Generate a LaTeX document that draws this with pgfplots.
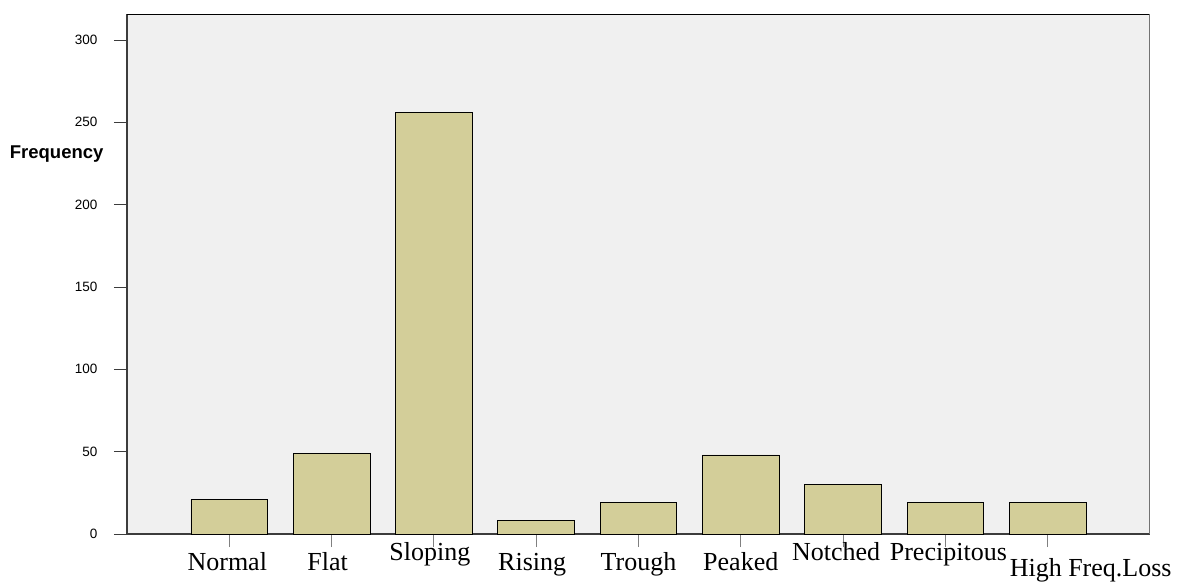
\documentclass[border=0pt]{standalone}
\usepackage{pgfplots}
\pgfplotsset{compat=1.18}
\usepackage{fontspec}
\setmainfont{Liberation Sans}
\newfontfamily\timesf{Liberation Serif}
\definecolor{barfill}{RGB}{211,206,153}
\definecolor{bgc}{RGB}{240,240,240}
\definecolor{axc}{RGB}{60,60,60}
\newcommand{\lab}[3]{\raisebox{#1}{\hspace*{#2}#3}}
\begin{document}
\begin{tikzpicture}
\useasboundingbox (-127pt,-47pt) rectangle (1050pt,534pt);
\begin{axis}[
  at={(0,0)}, anchor=south west,
  scale only axis,
  width=1023pt, height=520pt,
  xmin=-1, xmax=9,
  ymin=0, ymax=315.8,
  axis lines=left,
  axis line style={-, axc, line width=1.5pt},
  axis background/.style={fill=bgc},
  xtick={0,1,2,3,4,5,6,7,8},
  xticklabels={\lab{0pt}{-4pt}{Normal}, \lab{0pt}{-8pt}{Flat}, \lab{10pt}{-8pt}{Sloping}, \lab{0pt}{-8pt}{Rising}, Trough, Peaked, \lab{10pt}{-14pt}{Notched}, \lab{10pt}{6pt}{Precipitous}, \lab{-6pt}{86pt}{High Freq.Loss}},
  ytick={0,50,100,150,200,250,300},
  tick align=outside,
  major tick length=13pt,
  xtick style={gray, line width=1pt},
  ytick style={axc, line width=1pt},
  xticklabel style={font=\timesf\fontsize{26}{28}\selectfont, anchor=base, yshift=-23pt},
  yticklabel style={font=\fontsize{13.5}{15}\selectfont, xshift=-13pt},
  /pgf/number format/assume math mode=true,
  ylabel={\textbf{Frequency}},
  every axis y label/.style={at={(rel axis cs:0,0.73)}, anchor=east, xshift=-20pt, font=\fontsize{18.5}{20}\selectfont},
  ybar, bar width=0.75,
]
\addplot[fill=barfill, draw=black, line width=0.8pt] coordinates {
  (0,21) (1,49) (2,256) (3,8) (4,19) (5,48) (6,30) (7,19) (8,19)
};
\draw[black, line width=0.8pt] (rel axis cs:0,1) -- (rel axis cs:1,1);
\draw[black!55, line width=1pt] (rel axis cs:1,0) -- (rel axis cs:1,1);
\end{axis}
\end{tikzpicture}
\end{document}
